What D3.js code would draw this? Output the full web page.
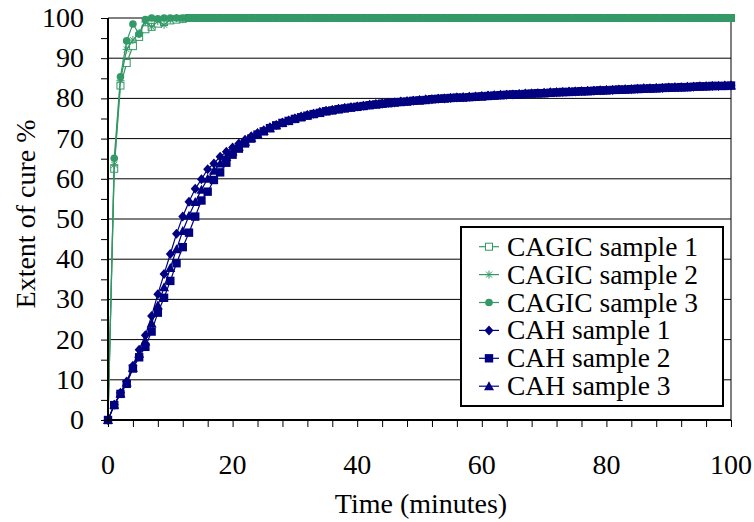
<!DOCTYPE html>
<html>
<head>
<meta charset="utf-8">
<script src="https://cdn.jsdelivr.net/npm/d3@7"></script>
<style>
  body { margin: 0; background: #fff; }
</style>
</head>
<body>
<div id="chart"></div>
<script>
// sample times (minutes)
var time = [0,1,2,3,4,5,6,7,8,9,10,11,12,13,14,15,16,17,18,19,20,21,22,23,24,25,26,27,28,29,30,
  31,32,33,34,35,36,37,38,39,40,41,42,43,44,45,46,47,48,49,50,51,52,53,54,55,56,57,58,59,60,
  61,62,63,64,65,66,67,68,69,70,71,72,73,74,75,76,77,78,79,80,81,82,83,84,85,86,87,88,89,90,
  91,92,93,94,95,96,97,98,99,100];

var cagic1 = [0,62.5,83.2,88.8,93,95.3,97.2,97.8,98.6,99,99.4,99.6,99.8,100,100,100,100,100,100,100,100,
  100,100,100,100,100,100,100,100,100,100,100,100,100,100,100,100,100,100,100,100,
  100,100,100,100,100,100,100,100,100,100,100,100,100,100,100,100,100,100,100,100,
  100,100,100,100,100,100,100,100,100,100,100,100,100,100,100,100,100,100,100,100,
  100,100,100,100,100,100,100,100,100,100,100,100,100,100,100,100,100,100,100,100];
var cagic2 = [0,63.5,84.5,92.2,94.5,96.3,99,97.8,99.2,98.3,99.6,100,99.7,100,100,100,100,100,100,100,100,
  100,100,100,100,100,100,100,100,100,100,100,100,100,100,100,100,100,100,100,100,
  100,100,100,100,100,100,100,100,100,100,100,100,100,100,100,100,100,100,100,100,
  100,100,100,100,100,100,100,100,100,100,100,100,100,100,100,100,100,100,100,100,
  100,100,100,100,100,100,100,100,100,100,100,100,100,100,100,100,100,100,100,100];
var cagic3 = [0,65.1,85.4,94.3,98.5,96,99.6,100,99.8,100,100,100,100,100,100,100,100,100,100,100,100,
  100,100,100,100,100,100,100,100,100,100,100,100,100,100,100,100,100,100,100,100,
  100,100,100,100,100,100,100,100,100,100,100,100,100,100,100,100,100,100,100,100,
  100,100,100,100,100,100,100,100,100,100,100,100,100,100,100,100,100,100,100,100,
  100,100,100,100,100,100,100,100,100,100,100,100,100,100,100,100,100,100,100,100];

var cah1 = [0,3.8,6.8,9.6,13.5,17.5,21.1,25.9,31.3,36.3,41.3,46.3,50.6,54.3,57.5,59.9,62.4,63.8,65.5,66.7,67.8,
  68.8,69.7,70.6,71.4,72.1,72.8,73.4,74,74.5,75,75.5,75.9,76.2,76.6,76.9,77.1,77.4,77.6,77.8,78,
  78.2,78.4,78.6,78.7,78.9,79,79.2,79.3,79.4,79.6,79.7,79.8,79.9,80,80.1,80.2,80.3,80.4,80.5,80.6,
  80.7,80.8,80.9,80.9,81,81.1,81.2,81.2,81.3,81.4,81.5,81.5,81.6,81.7,81.7,81.8,81.9,81.9,82,82.1,
  82.1,82.2,82.3,82.3,82.4,82.5,82.5,82.6,82.6,82.7,82.8,82.8,82.9,82.9,83,83,83.1,83.1,83.2,83.2];
var cah2 = [0,3.7,6.5,9,12.8,15.6,18.2,22,26.7,30.4,34.6,39,43,46.6,50.6,54.6,56.8,59.7,61.6,64,66,
  67.5,68.8,70,71,71.8,72.6,73.3,73.9,74.4,74.9,75.3,75.7,76.1,76.4,76.8,77,77.3,77.5,77.7,77.9,
  78.1,78.3,78.5,78.7,78.8,79,79.1,79.2,79.4,79.5,79.6,79.8,79.9,80,80.1,80.2,80.2,80.3,80.4,80.5,
  80.6,80.7,80.8,80.9,81,81,81.1,81.2,81.3,81.3,81.4,81.5,81.6,81.6,81.7,81.8,81.8,81.9,82,82,
  82.1,82.2,82.2,82.3,82.4,82.4,82.5,82.5,82.6,82.7,82.7,82.8,82.8,82.9,83,83,83.1,83.1,83.1,83.2];
var cah3 = [0,3.8,6.6,9.3,13,16.5,19.5,24,28.5,33,37.8,42.5,47,50.8,54.2,57.3,60,62,63.8,65.4,66.8,
  68,69.2,70.2,71.1,71.9,72.6,73.3,73.9,74.5,75,75.4,75.8,76.2,76.5,76.8,77.1,77.3,77.6,77.8,78,
  78.2,78.4,78.5,78.7,78.9,79,79.1,79.3,79.4,79.5,79.7,79.8,79.9,80,80.1,80.2,80.3,80.4,80.4,80.5,
  80.6,80.7,80.8,80.9,80.9,81,81.1,81.2,81.2,81.3,81.4,81.5,81.5,81.6,81.7,81.7,81.8,81.9,81.9,82,
  82.1,82.1,82.2,82.3,82.3,82.4,82.4,82.5,82.6,82.6,82.7,82.7,82.8,82.9,82.9,83,83,83.1,83.1,83.2];

var seriesNames = ["CAGIC sample 1", "CAGIC sample 2", "CAGIC sample 3", "CAH sample 1", "CAH sample 2", "CAH sample 3"];
var seriesValues = [cagic1, cagic2, cagic3, cah1, cah2, cah3];
var xTicks = [0, 20, 40, 60, 80, 100];
var yTicks = [0, 10, 20, 30, 40, 50, 60, 70, 80, 90, 100];

var green = "#339966", navy = "#000080";
var styles = [
  {color: green, marker: "opensquare"},
  {color: green, marker: "star"},
  {color: green, marker: "circle"},
  {color: navy, marker: "diamond"},
  {color: navy, marker: "square"},
  {color: navy, marker: "triangle"}
];
var fs = 28;

// every label goes through this so the serif font sticks
function label(sel, size) {
  return sel.attr("font-family", "Liberation Serif")
    .attr("font-size", size)
    .attr("fill", "#000");
}

var svg = d3.select("#chart").append("svg")
    .attr("width", 754)
    .attr("height", 522);

var margin = {top: 18, right: 23, bottom: 102, left: 108},
    width = 754 - margin.left - margin.right,
    height = 522 - margin.top - margin.bottom;

var g = svg.append("g").attr("transform", "translate(" + margin.left + "," + margin.top + ")");

var x = d3.scaleLinear().domain([0, 100]).range([0, width]);
var y = d3.scaleLinear().domain([0, 100]).range([height, 0]);

// gridlines
g.append("g").selectAll("line")
  .data(yTicks.slice(1))
  .enter().append("line")
    .attr("x1", 0).attr("x2", width)
    .attr("y1", function(d) { return y(d); })
    .attr("y2", function(d) { return y(d); })
    .attr("stroke", "#000").attr("stroke-width", 1);

// right frame
g.append("line").attr("x1", width).attr("x2", width).attr("y1", 0).attr("y2", height)
  .attr("stroke", "#000").attr("stroke-width", 1);

function drawMarker(sel, type, color) {
  if (type === "opensquare") {
    sel.append("rect").attr("x", -3.5).attr("y", -3.5).attr("width", 7).attr("height", 7)
      .attr("fill", "#fff").attr("stroke", color).attr("stroke-width", 1);
  } else if (type === "star") {
    sel.append("path").attr("d", "M-4,0H4M0,-4V4M-3,-3L3,3M-3,3L3,-3")
      .attr("stroke", color).attr("stroke-width", 1).attr("fill", "none");
  } else if (type === "circle") {
    sel.append("circle").attr("r", 3.8).attr("fill", color);
  } else if (type === "diamond") {
    sel.append("path").attr("d", "M0,-5L4.5,0L0,5L-4.5,0Z").attr("fill", color);
  } else if (type === "square") {
    sel.append("rect").attr("x", -4.2).attr("y", -4.2).attr("width", 8.4).attr("height", 8.4).attr("fill", color);
  } else if (type === "triangle") {
    sel.append("path").attr("d", "M0,-5L5,4L-5,4Z").attr("fill", color);
  }
}

var line = d3.line()
  .x(function(d) { return x(d[0]); })
  .y(function(d) { return y(d[1]); });

seriesValues.forEach(function(vals, i) {
  var pts = time.map(function(t, j) { return [t, vals[j]]; });
  var s = g.append("g");
  s.append("path").datum(pts)
    .attr("d", line)
    .attr("fill", "none")
    .attr("stroke", styles[i].color)
    .attr("stroke-width", 1.2);
  s.selectAll("g.m").data(pts).enter().append("g")
    .attr("class", "m")
    .attr("transform", function(d) { return "translate(" + x(d[0]) + "," + y(d[1]) + ")"; })
    .each(function() { drawMarker(d3.select(this), styles[i].marker, styles[i].color); });
});

// axes
var yAxis = g.append("g")
  .call(d3.axisLeft(y).tickValues(d3.range(0, 101, 5)).tickSize(7).tickFormat(""));
yAxis.select(".domain").attr("stroke-width", 2).attr("d", "M0," + height + "V0");
yAxis.selectAll(".tick line").attr("stroke-width", 1);

label(g.append("g").selectAll("text")
  .data(yTicks)
  .enter().append("text")
    .attr("x", -24)
    .attr("y", function(d) { return y(d) + 9; })
    .attr("text-anchor", "end")
    .text(function(d) { return d; }), fs);

var xAxis = g.append("g")
  .attr("transform", "translate(0," + height + ")")
  .call(d3.axisBottom(x).tickValues(d3.range(0, 101, 4)).tickSize(7).tickFormat(""));
xAxis.select(".domain").attr("stroke-width", 2).attr("d", "M0,0H" + width);
xAxis.selectAll(".tick line").attr("stroke-width", 1);

label(g.append("g").selectAll("text")
  .data(xTicks)
  .enter().append("text")
    .attr("x", function(d) { return x(d); })
    .attr("y", height + 54)
    .attr("text-anchor", "middle")
    .text(function(d) { return d; }), fs);

label(svg.append("text")
  .attr("x", 421).attr("y", 513)
  .attr("text-anchor", "middle")
  .text("Time (minutes)"), fs);

label(svg.append("text")
  .attr("transform", "translate(35,214) rotate(-90)")
  .attr("text-anchor", "middle")
  .text("Extent of cure %"), fs);

// legend
var legend = svg.append("g");
legend.append("rect")
  .attr("x", 461).attr("y", 227).attr("width", 262).attr("height", 179)
  .attr("fill", "#fff").attr("stroke", "#000").attr("stroke-width", 2);

seriesNames.forEach(function(name, i) {
  var row = legend.append("g").attr("transform", "translate(0," + (255.7 + i * 27.9) + ")");
  row.append("line").attr("x1", 479).attr("x2", 499).attr("y1", -9).attr("y2", -9)
    .attr("stroke", styles[i].color).attr("stroke-width", 1.2);
  var m = row.append("g").attr("transform", "translate(489,-9)");
  drawMarker(m, styles[i].marker, styles[i].color);
  label(row.append("text").attr("x", 507).attr("y", 0).text(name), 27.5);
});
</script>
</body>
</html>
